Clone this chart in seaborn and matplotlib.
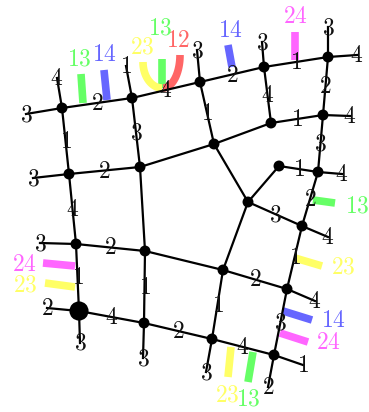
import numpy as np
import pandas as pd
import matplotlib
matplotlib.use("Agg")
import matplotlib.pyplot as plt
import seaborn as sns

# Узлы графа (координаты в пикселях картинки, y вниз)
node_names = ["A", "B", "C", "D", "E", "F", "G", "H", "I", "J", "K",
              "L", "M", "N", "O", "P", "Q", "R", "S", "T", "U", "V"]
node_x = [62, 132, 200, 264, 328, 271, 323, 214, 140, 69, 279,
          318, 248, 302, 76, 145, 223, 287, 79, 144, 212, 274]
node_y = [108, 98, 82, 67, 57, 123, 115, 144, 167, 174, 166,
          172, 202, 226, 244, 251, 270, 289, 311, 323, 339, 355]
big_node = "S"

# Рёбра и их метки ('' = без метки)
edge_from = ["A", "B", "C", "D", "A", "J", "J", "O", "O", "S", "T", "T", "U", "U",
             "V", "R", "R", "N", "N", "L", "L", "G", "G", "F", "H", "B",
             "F", "H", "H", "M", "M", "P", "P"]
edge_to = ["B", "C", "D", "E", "J", "I", "O", "P", "S", "T", "P", "U", "Q", "V",
           "R", "Q", "N", "M", "L", "K", "G", "E", "F", "D", "C", "I",
           "H", "I", "M", "K", "Q", "Q", "I"]
edge_labels = ["2", "4", "2", "1", "1", "2", "4", "2", "1", "4", "1", "2", "1", "4",
               "3", "2", "1", "3", "2", "1", "3", "2", "1", "4", "1", "3",
               "", "", "", "", "", "", ""]

# Висячие рёбра: узел, конец, метка
stub_node = ["A", "A", "B", "C", "D", "E", "E", "G", "J", "O", "L", "N",
             "R", "V", "V", "U", "T", "S", "S"]
stub_x = [26, 57, 126, 197, 262, 328, 357, 350, 33, 40, 342, 328,
          315, 303, 268, 206, 143, 80, 47]
stub_y = [114, 78, 66, 50, 42, 27, 55, 116, 178, 243, 174, 237,
          301, 365, 387, 372, 358, 343, 308]
stub_labels = ["3", "4", "1", "3", "3", "3", "4", "4", "3", "3", "4", "4",
               "4", "1", "2", "3", "3", "3", "2"]

# Цветные отрезки с подписями
mark_names = ["13", "14", "14", "24", "13", "23", "14", "24", "23", "13", "24", "23", "13"]
mark_x0 = [81, 104, 228, 295, 313, 295, 283, 280, 231, 253, 43, 45, 162]
mark_y0 = [74, 70, 45, 32, 200, 258, 311, 333, 347, 352, 263, 283, 59]
mark_x1 = [83, 107, 232, 295, 335, 322, 312, 308, 228, 248, 75, 75, 162]
mark_y1 = [103, 100, 67, 60, 203, 266, 320, 342, 377, 382, 266, 287, 88]
mark_lx = [79, 104, 230, 295, 357, 343, 333, 328, 227, 248, 24, 25, 160]
mark_ly = [58, 54, 30, 16, 205, 266, 320, 342, 394, 399, 264, 284, 27]

# Дуги: подпись, центр, радиусы, углы (градусы)
arc_names = ["23", "12"]
arc_cx = [162, 163]
arc_cy = [62, 55]
arc_rx = [19, 17]
arc_ry = [26, 33]
arc_t0 = [90, 0]
arc_t1 = [180, 90]
arc_lx = [142, 178]
arc_ly = [46, 40]

colors = {"13": "#66ff66", "14": "#6666ff", "23": "#ffff66",
          "24": "#ff66ff", "12": "#ff6666"}

plt.rcParams["mathtext.fontset"] = "cm"

pos = {n: (x, y) for n, x, y in zip(node_names, node_x, node_y)}

fig = plt.figure(figsize=(3.69, 4.12), dpi=100)
ax = fig.add_axes([0, 0, 1, 1])

# цветные отрезки
rows = []
for i, name in enumerate(mark_names):
    rows.append({"id": i, "c": name, "x": mark_x0[i], "y": mark_y0[i], "o": 0})
    rows.append({"id": i, "c": name, "x": mark_x1[i], "y": mark_y1[i], "o": 1})
marks = pd.DataFrame(rows)
sns.lineplot(data=marks, x="x", y="y", units="id", hue="c", palette=colors,
             estimator=None, sort=False, lw=5.5, legend=False, ax=ax, zorder=1,
             solid_capstyle="butt")

for i, name in enumerate(arc_names):
    t = np.radians(np.linspace(arc_t0[i], arc_t1[i], 40))
    ax.plot(arc_cx[i] + arc_rx[i] * np.cos(t), arc_cy[i] + arc_ry[i] * np.sin(t),
            color=colors[name], lw=5.5, zorder=1, solid_capstyle="butt")
    ax.text(arc_lx[i], arc_ly[i], f"${name}$", color=colors[name], fontsize=17,
            ha="center", va="center", zorder=5)

for i, name in enumerate(mark_names):
    ax.text(mark_lx[i], mark_ly[i], f"${name}$", color=colors[name], fontsize=17,
            ha="center", va="center", zorder=5)

# рёбра
rows = []
k = 0
for a, b in zip(edge_from, edge_to):
    for n in (a, b):
        rows.append({"id": k, "x": pos[n][0], "y": pos[n][1]})
    k += 1
for n, x, y in zip(stub_node, stub_x, stub_y):
    rows.append({"id": k, "x": pos[n][0], "y": pos[n][1]})
    rows.append({"id": k, "x": x, "y": y})
    k += 1
edges = pd.DataFrame(rows)
sns.lineplot(data=edges, x="x", y="y", units="id", estimator=None, sort=False,
             color="black", lw=1.6, legend=False, ax=ax, zorder=2)

# узлы
nodes = pd.DataFrame({"x": node_x, "y": node_y,
                      "big": ["big" if n == big_node else "small" for n in node_names]})
sns.scatterplot(data=nodes, x="x", y="y", size="big",
                sizes={"big": 190, "small": 62}, color="black",
                edgecolor="none", legend=False, ax=ax, zorder=3)

# подписи
for a, b, lab in zip(edge_from, edge_to, edge_labels):
    if lab:
        mx = (pos[a][0] + pos[b][0]) / 2
        my = (pos[a][1] + pos[b][1]) / 2
        ax.text(mx, my, f"${lab}$", fontsize=17, ha="center", va="center",
                color="#111111", zorder=4)
for x, y, lab in zip(stub_x, stub_y, stub_labels):
    ax.text(x, y, f"${lab}$", fontsize=17, ha="center", va="center",
            color="#111111", zorder=4)

ax.set_xlim(0, 369)
ax.set_ylim(412, 0)
ax.axis("off")
fig.savefig("out.png", dpi=100)
